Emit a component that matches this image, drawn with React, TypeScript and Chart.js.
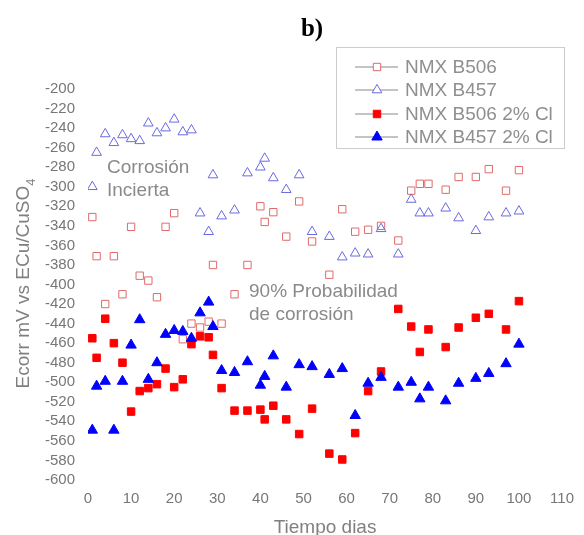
import React, { useEffect, useRef } from "react";
import { Chart, registerables } from "chart.js";

Chart.register(...registerables);

// Days of measurement
const days = [1, 2, 4, 6, 8, 10, 12, 14, 16, 18, 20, 22, 24, 26, 28, 29, 31, 34, 37, 40, 41, 43, 46, 49, 52, 56, 59, 62, 65, 68, 72, 75, 77, 79, 83, 86, 90, 93, 97, 100];

// NMX B506 (hollow squares)
const b506 = [-331, -371, -420, -371, -410, -341, -391, -396, -413, -341, -327, -456, -440, -444, -438, -380, -440, -410, -380, -320, -336, -326, -351, -315, -356, -390, -323, -346, -344, -340, -355, -304, -297, -297, -303, -290, -290, -282, -304, -283];

// NMX B457 (hollow triangles)
const b457 = [-300, -265, -246, -255, -247, -251, -253, -235, -245, -240, -231, -244, -242, -327, -346, -288, -330, -324, -286, -280, -271, -291, -303, -288, -346, -351, -372, -368, -369, -343, -369, -313, -327, -327, -322, -332, -345, -331, -327, -325];

// NMX B506 2% Cl (filled squares)
const b506Cl = [-455, -475, -435, -460, -480, -530, -509, -506, -502, -486, -505, -497, -461, -453, -454, -472, -506, -529, -529, -528, -538, -524, -538, -553, -527, -573, -579, -552, -509, -489, -425, -443, -469, -446, -464, -444, -434, -430, -446, -417];

// NMX B457 2% Cl (filled triangles)
const b457Cl = [-549, -504, -499, -549, -499, -462, -436, -497, -480, -451, -447, -448, -455, -429, -418, -443, -488, -490, -479, -503, -494, -473, -505, -482, -484, -492, -486, -534, -501, -495, -505, -500, -517, -505, -519, -501, -496, -491, -481, -461];

const seriesLabels = ["NMX B506", "NMX B457", "NMX B506 2% Cl", "NMX B457 2% Cl"];
const xAxisTitle = "Tiempo dias";
const yAxisTitleMain = "Ecorr mV vs ECu/CuSO";
const yAxisTitleSub = "4";
const chartTitle = "b)";
const noteA = ["Corrosión", "Incierta"];
const noteB = ["90% Probabilidad", "de corrosión"];

const toPoints = (ys: number[]) => ys.map((y, i) => ({ x: days[i], y }));

const SANS = '"Liberation Sans", Arial, sans-serif';

const styles = [
  { shape: "rect", fill: "rgba(0,0,0,0)", stroke: "#e06a6a", r: 5.2 },
  { shape: "triangle", fill: "rgba(0,0,0,0)", stroke: "#6a6ae0", r: 5.6 },
  { shape: "rect", fill: "#ff0000", stroke: "#ff0000", r: 5.3 },
  { shape: "triangle", fill: "#0000ff", stroke: "#0000ff", r: 6 },
];

function drawMarker(ctx: CanvasRenderingContext2D, shape: string, x: number, y: number, r: number, fill: string, stroke: string) {
  ctx.beginPath();
  if (shape === "rect") {
    const s = Math.SQRT1_2 * r;
    ctx.rect(x - s, y - s, 2 * s, 2 * s);
  } else {
    let a = 0;
    ctx.moveTo(x + Math.sin(a) * r, y - Math.cos(a) * r);
    a += (2 * Math.PI) / 3;
    ctx.lineTo(x + Math.sin(a) * r, y - Math.cos(a) * r);
    a += (2 * Math.PI) / 3;
    ctx.lineTo(x + Math.sin(a) * r, y - Math.cos(a) * r);
    ctx.closePath();
  }
  ctx.fillStyle = fill;
  ctx.fill();
  ctx.lineWidth = 1;
  ctx.strokeStyle = stroke;
  ctx.stroke();
}

const decorPlugin = {
  id: "decor",
  afterDraw(chart: any) {
    const ctx: CanvasRenderingContext2D = chart.ctx;
    ctx.save();
    // Title
    ctx.fillStyle = "#000";
    ctx.font = 'bold 25px "Liberation Serif", "Times New Roman", serif';
    ctx.textAlign = "center";
    ctx.textBaseline = "alphabetic";
    ctx.fillText(chartTitle, 312, 36);

    // Legend
    ctx.strokeStyle = "#cccccc";
    ctx.lineWidth = 1;
    ctx.strokeRect(336.5, 47.5, 228, 101);
    const rows = [67, 90, 114, 137];
    ctx.font = "19px " + SANS;
    ctx.textAlign = "left";
    ctx.textBaseline = "middle";
    rows.forEach((ry, i) => {
      ctx.strokeStyle = "#b0b0b0";
      ctx.lineWidth = 1.5;
      ctx.beginPath();
      ctx.moveTo(355, ry);
      ctx.lineTo(398, ry);
      ctx.stroke();
      const st = styles[i];
      drawMarker(ctx, st.shape, 377, ry, st.r, st.fill === "rgba(0,0,0,0)" ? "#ffffff" : st.fill, st.stroke);
      ctx.fillStyle = "#8f8f8f";
      ctx.fillText(seriesLabels[i], 405, ry + 1);
    });

    // Annotations
    ctx.fillStyle = "#8a8a8a";
    ctx.font = "19px " + SANS;
    ctx.textAlign = "left";
    ctx.textBaseline = "middle";
    ctx.fillText(noteA[0], 107, 168);
    ctx.fillText(noteA[1], 107, 191);
    ctx.fillText(noteB[0], 249, 292);
    ctx.fillText(noteB[1], 249, 315);

    // Axis titles
    const area = chart.chartArea;
    ctx.fillStyle = "#808080";
    ctx.textAlign = "center";
    ctx.fillText(xAxisTitle, (area.left + area.right) / 2, 528);

    ctx.translate(24, (area.top + area.bottom) / 2 - 1);
    ctx.rotate(-Math.PI / 2);
    ctx.font = "19px " + SANS;
    const w1 = ctx.measureText(yAxisTitleMain).width;
    ctx.font = "13px " + SANS;
    const w2 = ctx.measureText(yAxisTitleSub).width;
    const start = -(w1 + w2) / 2;
    ctx.textAlign = "left";
    ctx.font = "19px " + SANS;
    ctx.fillText(yAxisTitleMain, start, 0);
    ctx.font = "13px " + SANS;
    ctx.fillText(yAxisTitleSub, start + w1, 7);
    ctx.restore();
  },
};

export default function App() {
  const ref = useRef<HTMLCanvasElement | null>(null);
  useEffect(() => {
    if (!ref.current) return;
    const all = [b506, b457, b506Cl, b457Cl];
    const chart = new Chart(ref.current, {
      type: "scatter",
      data: {
        datasets: all.map((ys, i) => ({
          label: seriesLabels[i],
          data: toPoints(ys),
          pointStyle: styles[i].shape as any,
          pointRadius: styles[i].r,
          pointBackgroundColor: styles[i].fill,
          pointBorderColor: styles[i].stroke,
          pointBorderWidth: 1,
          showLine: false,
          order: 3 - i,
        })),
      },
      options: {
        animation: false,
        responsive: false,
        layout: { padding: { top: 89, right: 14, bottom: 0, left: 0 } },
        plugins: { legend: { display: false }, title: { display: false }, tooltip: { enabled: false } },
        scales: {
          x: {
            type: "linear",
            min: 0,
            max: 110,
            grid: { display: false, drawTicks: false },
            border: { display: false },
            ticks: {
              stepSize: 10,
              padding: 10,
              autoSkip: false,
              color: "#777777",
              font: { family: SANS, size: 15 },
              callback: (v: any) => String(v),
            },
            afterFit: (s: any) => {
              s.height = 55;
            },
          },
          y: {
            type: "linear",
            min: -600,
            max: -200,
            grid: { display: false, drawTicks: false },
            border: { display: false },
            ticks: {
              stepSize: 20,
              padding: 13,
              autoSkip: false,
              color: "#777777",
              font: { family: SANS, size: 15 },
              callback: (v: any) => String(v),
            },
            afterFit: (s: any) => {
              s.width = 88;
            },
          },
        },
      },
      plugins: [decorPlugin],
    });
    return () => chart.destroy();
  }, []);
  return (
    <div style={{ position: "absolute", left: 0, top: 0, width: 584, height: 535, background: "#fff" }}>
      <canvas ref={ref} width={584} height={535} style={{ display: "block" }} />
    </div>
  );
}
